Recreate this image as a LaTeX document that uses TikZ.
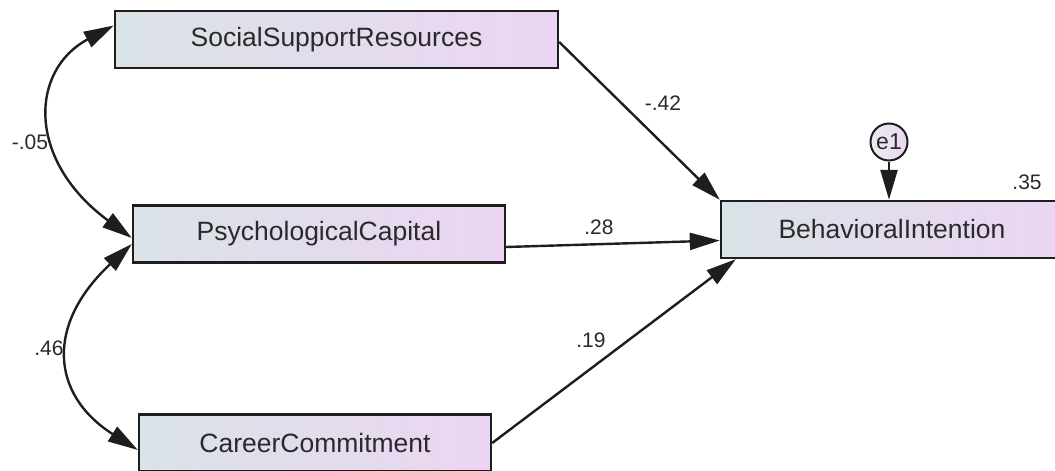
\documentclass[tikz,border=0pt]{standalone}
\usepackage{fontspec}
\setmainfont{Liberation Sans}
\usetikzlibrary{arrows.meta,calc}
\definecolor{boxleft}{HTML}{DAE3E7}
\definecolor{boxright}{HTML}{ECD5F2}
\definecolor{ink}{HTML}{1E1E1E}
\definecolor{textink}{HTML}{2A2A2A}

\begin{document}
\begin{tikzpicture}[x=1pt,y=-1pt,
  observed/.style={draw=ink, line width=2.4pt, left color=boxleft, right color=boxright,
    inner sep=0pt, minimum height=57pt, text=textink, font=\fontsize{26.5}{30}\selectfont},
  residual/.style={circle, draw=ink, line width=2pt, left color=boxleft!60!white, right color=boxright,
    inner sep=0pt, minimum size=37pt, text=textink, font=\fontsize{23}{26}\selectfont},
  path/.style={draw=ink, line width=2.4pt, -{Triangle[length=30pt,width=17pt]}},
  covar/.style={draw=ink, line width=2.4pt, {Triangle[length=30pt,width=17pt]}-{Triangle[length=30pt,width=17pt]}},
  coef/.style={text=textink, font=\fontsize{21}{25}\selectfont, inner sep=0pt}
]
\useasboundingbox (0,0) rectangle (1055,471);
\clip (0,0) rectangle (1055,471);
\fill[white] (0,0) rectangle (1055,471);

% observed variables
\node[observed, minimum width=443pt] (ssr) at (336.5,39.5) {SocialSupportResources};
\node[observed, minimum width=372pt] (pc) at (319,234) {PsychologicalCapital};
\node[observed, minimum width=352pt] (cc) at (315,443) {CareerCommitment};
\node[observed, minimum width=342pt] (bi) at (892,229.5) {BehavioralIntention};

% error term
\node[residual] (e1) at (889,142) {e1};

% regression paths
\draw[path] ($(ssr.east)+(0,2.5)$) -- (bi.north west);
\draw[path] ($(pc.east)+(0,13)$) -- ($(bi.west)+(0,11)$);
\draw[path] (cc.east) -- ($(bi.south west)+(16,0)$);
\draw[path] (e1.south) -- (e1.south |- bi.north);

% covariances
\draw[covar] ($(ssr.west)+(0,-14)$) .. controls (30,70) and (26,160) .. ($(pc.west)+(0,4)$);
\draw[covar] ($(pc.west)+(0,10)$) .. controls (45,325) and (51,395) .. ($(cc.west)+(0,7)$);

% coefficients
\node[coef] (c1) at (663,103) {-.42};
\node[coef] (c2) at (599,227) {.28};
\node[coef] (c3) at (591,340) {.19};
\node[coef] (c4) at (1027,182) {.35};
\node[coef] (c5) at (30,142) {-.05};
\node[coef] (c6) at (49,348) {.46};
\end{tikzpicture}
\end{document}
